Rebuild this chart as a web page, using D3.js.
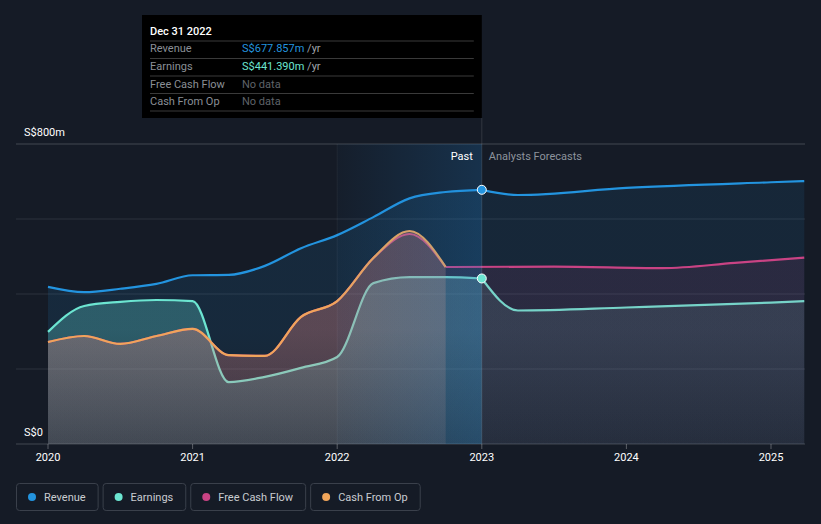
<!DOCTYPE html>
<html><head><meta charset="utf-8">
<script src="https://cdn.jsdelivr.net/npm/d3@7"></script>
<style>
html,body{margin:0;padding:0;background:#151b26;}
svg{display:block;font-family:Roboto,"Noto Sans",sans-serif;}
</style></head>
<body>
<svg id="c" width="821" height="524"></svg>
<script>
// ---- data ----
const pastDates      = [2020, 2020.25, 2020.5, 2020.75, 2021, 2021.25, 2021.5, 2021.75, 2022, 2022.25, 2022.5, 2022.75, 2023];
const revenuePast    = [419, 405, 414, 427, 450, 451, 475, 522, 557, 605, 655, 672, 677.857];
const earningsPast   = [299, 368, 379, 384, 381, 165, 179, 203, 232, 429, 445, 445, 441.39];
const cashDates      = [2020, 2020.25, 2020.5, 2020.75, 2021, 2021.25, 2021.5, 2021.75, 2022, 2022.25, 2022.5, 2022.75];
const cfoPast        = [272, 288, 267, 288, 307, 237, 235, 339, 381, 496, 568, 472];
const fcfPast        = [272, 288, 267, 288, 307, 237, 235, 339, 381, 496, 560, 472];
const forecastDates  = [2023, 2023.25, 2024, 2025, 2025.23];
const revenueFc      = [677.857, 664, 683, 698, 701];
const earningsFc     = [441.39, 356, 364, 377, 381];
const fcfFcDates     = [2022.75, 2023.5, 2024.25, 2024.75, 2025.23];
const fcfFc          = [472, 473, 469, 483, 497];
const yearTicks      = [2020, 2021, 2022, 2023, 2024, 2025];
const gridValues     = [0, 200, 400, 600, 800];
const yLabels        = [{v: 800, t: "S$800m"}, {v: 0, t: "S$0"}];
const legendItems    = ["Revenue", "Earnings", "Free Cash Flow", "Cash From Op"];
const tooltipTitle   = "Dec 31 2022";
const tooltipRows    = [
  {label: "Revenue", value: "S$677.857m", unit: " /yr"},
  {label: "Earnings", value: "S$441.390m", unit: " /yr"},
  {label: "Free Cash Flow", value: "No data", unit: ""},
  {label: "Cash From Op", value: "No data", unit: ""}
];

// ---- styles ----
const COL = {rev: "#2394df", earn: "#6ce5d1", fcf: "#c94384", cfo: "#f0a55a"};
const legendColors = [COL.rev, COL.earn, COL.fcf, COL.cfo];
const L = 16, R = 805, T = 144, B = 444;

const svg = d3.select("#c");
const x = d3.scaleLinear().domain([2020, 2025]).range([48, 771]);
const y = d3.scaleLinear().domain([0, 800]).range([B, T]);
const zip = (ds, vs) => ds.map((d, i) => ({d, v: vs[i]}));

const defs = svg.append("defs");
function vgrad(id, color, a) {
  const g = defs.append("linearGradient").attr("id", id)
    .attr("gradientUnits", "userSpaceOnUse").attr("x1", 0).attr("x2", 0).attr("y1", T).attr("y2", B);
  g.append("stop").attr("offset", 0).attr("stop-color", color).attr("stop-opacity", a);
  g.append("stop").attr("offset", 0.62).attr("stop-color", color).attr("stop-opacity", a);
  g.append("stop").attr("offset", 1).attr("stop-color", color).attr("stop-opacity", a * 0.5);
  return `url(#${id})`;
}
const hg = defs.append("linearGradient").attr("id", "hl")
  .attr("gradientUnits", "userSpaceOnUse").attr("x1", x(2022)).attr("x2", x(2023)).attr("y1", 0).attr("y2", 0);
hg.append("stop").attr("offset", 0).attr("stop-color", "#1e82d2").attr("stop-opacity", 0.03);
hg.append("stop").attr("offset", 1).attr("stop-color", "#1e82d2").attr("stop-opacity", 0.22);

// grid
svg.append("g").selectAll("line").data(gridValues).join("line")
  .attr("x1", L).attr("x2", R).attr("y1", d => y(d)).attr("y2", d => y(d))
  .attr("stroke", d => (d === 0 || d === 800) ? "rgba(255,255,255,0.2)" : "rgba(255,255,255,0.1)")
  .attr("stroke-width", 1);

const area = d3.area().x(p => x(p.d)).y0(y(0)).y1(p => y(p.v)).curve(d3.curveMonotoneX);
const line = d3.line().x(p => x(p.d)).y(p => y(p.v)).curve(d3.curveMonotoneX);

const g = svg.append("g");
function series(data, fill, stroke) {
  g.append("path").datum(data).attr("d", area).attr("fill", fill);
  g.append("path").datum(data).attr("d", line).attr("fill", "none")
    .attr("stroke", stroke).attr("stroke-width", 2.2).attr("stroke-linejoin", "round");
}
// revenue
series(zip(pastDates, revenuePast), vgrad("gRevP", COL.rev, 0.12), COL.rev);
series(zip(forecastDates, revenueFc), vgrad("gRevF", COL.rev, 0.1), COL.rev);
// earnings
series(zip(pastDates, earningsPast), vgrad("gEarnP", "#62d8d6", 0.29), COL.earn);
series(zip(forecastDates, earningsFc), vgrad("gEarnF", "#78c8be", 0.14), COL.earn);
// free cash flow
series(zip(cashDates, fcfPast), vgrad("gFcfP", COL.fcf, 0.12), COL.fcf);
series(zip(fcfFcDates, fcfFc), vgrad("gFcfF", COL.fcf, 0.11), COL.fcf);
// cash from op
series(zip(cashDates, cfoPast), vgrad("gCfoP", "#e39a80", 0.25), COL.cfo);

// past highlight
svg.append("rect").attr("x", x(2022)).attr("y", T).attr("width", x(2023) - x(2022)).attr("height", B - T)
  .attr("fill", "url(#hl)");
svg.append("line").attr("x1", x(2022)).attr("x2", x(2022)).attr("y1", T).attr("y2", B)
  .attr("stroke", "rgba(255,255,255,0.05)");

// x axis ticks & labels
const xa = svg.append("g");
xa.selectAll("line").data(yearTicks).join("line")
  .attr("x1", d => x(d)).attr("x2", d => x(d)).attr("y1", B).attr("y2", B + 5)
  .attr("stroke", "rgba(255,255,255,0.3)");
xa.selectAll("text").data(yearTicks).join("text")
  .attr("x", d => x(d)).attr("y", 461).attr("text-anchor", "middle")
  .attr("fill", "#ffffff").attr("font-size", 11).text(d => d);

// y labels
svg.append("g").selectAll("text").data(yLabels).join("text")
  .attr("x", 24).attr("y", d => y(d.v) - 8).attr("fill", "#ffffff").attr("font-size", 11).text(d => d.t);

// Past / forecast labels
svg.append("text").attr("x", x(2023) - 9).attr("y", 160).attr("text-anchor", "end")
  .attr("fill", "#ffffff").attr("font-size", 11).text("Past");
svg.append("text").attr("x", x(2023) + 7).attr("y", 160)
  .attr("fill", "#8d939c").attr("font-size", 11).text("Analysts Forecasts");

// tooltip vertical line
svg.append("line").attr("x1", x(2023)).attr("x2", x(2023)).attr("y1", 118).attr("y2", B)
  .attr("stroke", "rgba(255,255,255,0.12)");

// dots
svg.append("circle").attr("cx", x(pastDates[pastDates.length - 1])).attr("cy", y(revenuePast[revenuePast.length - 1]))
  .attr("r", 4.5).attr("fill", COL.rev).attr("stroke", "#fff").attr("stroke-width", 1);
svg.append("circle").attr("cx", x(pastDates[pastDates.length - 1])).attr("cy", y(earningsPast[earningsPast.length - 1]))
  .attr("r", 4.5).attr("fill", COL.earn).attr("stroke", "#fff").attr("stroke-width", 1);

// tooltip
const tt = svg.append("g");
tt.append("rect").attr("x", 142).attr("y", 15).attr("width", x(2023) - 142).attr("height", 103).attr("fill", "#000");
tt.append("text").attr("x", 150).attr("y", 35).attr("fill", "#fff").attr("font-size", 11).attr("font-weight", 500).text(tooltipTitle);
const rowY = [52, 70, 87.5, 105];
const sepY = [41, 58.5, 76, 93.5, 111];
tt.selectAll("line").data(sepY).join("line")
  .attr("x1", 150).attr("x2", x(2023) - 8).attr("y1", d => d).attr("y2", d => d)
  .attr("stroke", "#3a3a3a");
const valColors = [COL.rev, COL.earn, "#5f6369", "#5f6369"];
tooltipRows.forEach((r, i) => {
  tt.append("text").attr("x", 150).attr("y", rowY[i]).attr("fill", "#8a8f96").attr("font-size", 11).text(r.label);
  const t = tt.append("text").attr("x", 242).attr("y", rowY[i]).attr("font-size", 11);
  t.append("tspan").attr("fill", valColors[i]).text(r.value);
  if (r.unit) t.append("tspan").attr("fill", "#a0a5ab").text(r.unit);
});

// legend
const lg = svg.append("g");
let lx = 16;
legendItems.forEach((name, i) => {
  const item = lg.append("g");
  const txt = item.append("text").attr("x", lx + 28).attr("y", 500.5).attr("fill", "#c9ccd1").attr("font-size", 11).text(name);
  const w = txt.node().getComputedTextLength();
  const bw = w + 28 + 12;
  item.insert("rect", "text").attr("x", lx + 0.5).attr("y", 483.5).attr("width", bw).attr("height", 27)
    .attr("rx", 3).attr("fill", "none").attr("stroke", "#3a404b");
  item.append("circle").attr("cx", lx + 16).attr("cy", 497).attr("r", 4).attr("fill", legendColors[i]);
  lx += bw + 5;
});
</script>
</body></html>
